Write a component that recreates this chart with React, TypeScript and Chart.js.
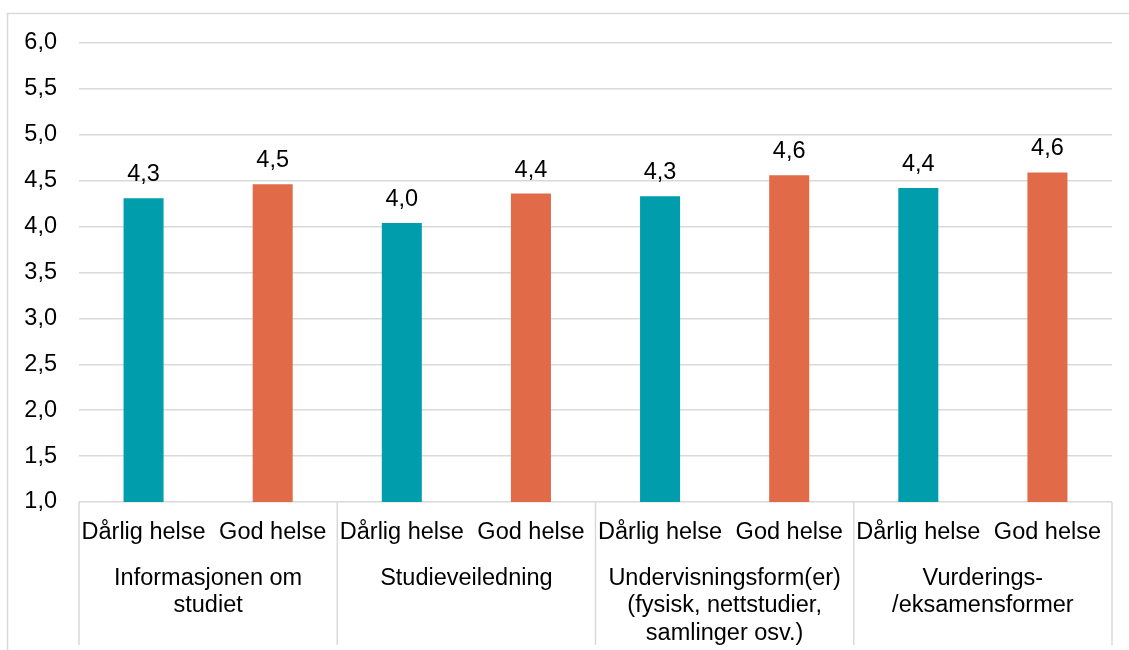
import React, { useEffect, useRef } from "react";
import { Chart, registerables } from "chart.js";

Chart.register(...registerables);

const groups: string[][] = [
  ["Informasjonen om", "studiet"],
  ["Studieveiledning"],
  ["Undervisningsform(er)", "(fysisk, nettstudier,", "samlinger osv.)"],
  ["Vurderings-", "/eksamensformer"],
];
const healthLabels = ["Dårlig helse", "God helse"];
const values = [4.31, 4.46, 4.04, 4.36, 4.33, 4.56, 4.42, 4.59];
const yTicks = [1, 1.5, 2, 2.5, 3, 3.5, 4, 4.5, 5, 5.5, 6];
const healthColors = ["#009DAC", "#E16B49"];

const categories = groups.flatMap(() => healthLabels);
const FONT = "'Liberation Sans', Arial, sans-serif";
const FS = 23.5;
const fmt = (v: number) => v.toFixed(1).replace(".", ",");

const decorPlugin = {
  id: "decor",
  beforeDraw(chart: any) {
    const ctx = chart.ctx;
    ctx.save();
    ctx.strokeStyle = "#d9d9d9";
    ctx.lineWidth = 1.5;
    ctx.strokeRect(7.5, 13.5, chart.width + 20, chart.height + 20);
    ctx.restore();
  },
  afterDraw(chart: any) {
    const ctx = chart.ctx;
    const x = chart.scales.x;
    const area = chart.chartArea;
    ctx.save();
    ctx.strokeStyle = "#d9d9d9";
    ctx.lineWidth = 1.5;
    const n = categories.length;
    const step = (x.right - x.left) / n;
    for (let g = 0; g <= groups.length; g++) {
      const px = x.left + g * healthLabels.length * step;
      ctx.beginPath();
      ctx.moveTo(px, area.bottom);
      ctx.lineTo(px, 645);
      ctx.stroke();
    }
    ctx.fillStyle = "#000";
    ctx.font = `${FS}px ${FONT}`;
    ctx.textAlign = "center";
    ctx.textBaseline = "alphabetic";
    const meta = chart.getDatasetMeta(0);
    meta.data.forEach((bar: any, i: number) => {
      ctx.fillText(fmt(values[i]), bar.x, bar.y - 17);
    });
    ctx.restore();
  },
};

export default function App() {
  const ref = useRef<HTMLCanvasElement | null>(null);
  useEffect(() => {
    if (!ref.current) return;
    const chart = new Chart(ref.current, {
      type: "bar",
      data: {
        labels: categories,
        datasets: [
          {
            data: values,
            backgroundColor: values.map((_, i) => healthColors[i % 2]),
            barPercentage: 0.31,
            categoryPercentage: 1,
          },
        ],
      },
      options: {
        responsive: false,
        animation: false,
        layout: { padding: { top: 43, right: 17, left: 0, bottom: 0 } },
        plugins: { legend: { display: false }, tooltip: { enabled: false } },
        scales: {
          y: {
            min: 1,
            max: 6,
            afterBuildTicks: (s: any) => {
              s.ticks = yTicks.map((v) => ({ value: v }));
            },
            afterFit: (s: any) => {
              s.width = 79;
            },
            border: { display: false },
            grid: { color: "#d9d9d9", lineWidth: 1.5, drawTicks: false },
            ticks: {
              padding: 22,
              color: "#000",
              font: { family: FONT, size: FS },
              callback: (v: any) => fmt(Number(v)),
            },
          },
          x: {
            position: "bottom",
            grid: { display: false, drawTicks: false },
            border: { display: false },
            afterFit: (s: any) => {
              s.height = 52;
            },
            ticks: {
              padding: 16,
              autoSkip: false,
              maxRotation: 0,
              color: "#000",
              font: { family: FONT, size: FS },
            },
          },
          x2: {
            type: "category",
            position: "bottom",
            labels: groups as any,
            grid: { display: false, drawTicks: false },
            border: { display: false },
            afterFit: (s: any) => {
              s.height = 96;
            },
            ticks: {
              padding: 11,
              autoSkip: false,
              maxRotation: 0,
              color: "#000",
              font: { family: FONT, size: FS, lineHeight: 1.16 },
            },
          },
        },
      },
      plugins: [decorPlugin],
    });
    return () => chart.destroy();
  }, []);
  return (
    <div style={{ position: "fixed", left: 0, top: 0, width: 1129, height: 650, background: "#fff" }}>
      <canvas ref={ref} width={1129} height={650} style={{ display: "block" }} />
    </div>
  );
}
